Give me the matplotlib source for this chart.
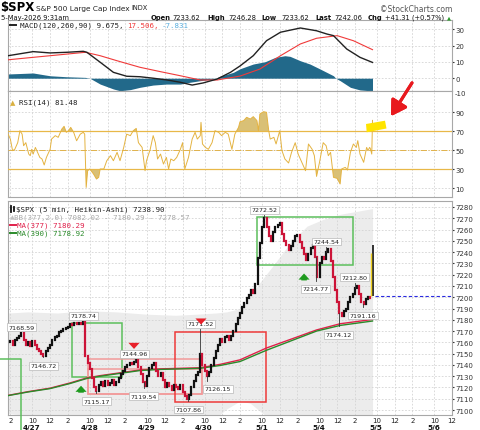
import matplotlib
matplotlib.use("Agg")
import matplotlib.pyplot as plt
from matplotlib.patches import Rectangle, Polygon
from matplotlib.lines import Line2D

W, H = 480, 431

# x is the 5-minute bar number: 0 = 27-Apr 9:30, 78 bars per session
bars_per_day = 78
day_labels = ["4/27", "4/28", "4/29", "4/30", "5/1", "5/4", "5/5", "5/6"]

# Heikin-Ashi closes read every 15 minutes, starting at bar -27
ha_first_bar = -27
ha_every = 3
ha_close = [
    7160, 7161, 7158, 7162, 7164, 7166, 7168, 7162, 7158,
    7160, 7157, 7161, 7158, 7154, 7152, 7150, 7148, 7152, 7155, 7158, 7162, 7165,
    7166, 7169, 7170, 7172, 7173, 7174, 7176, 7175, 7177, 7176, 7177, 7176, 7178,
    7148, 7142, 7136, 7128, 7120, 7117, 7122, 7125, 7121, 7126, 7122, 7124, 7127,
    7122, 7125, 7128, 7132, 7135, 7138, 7140, 7142, 7141, 7143, 7144, 7138, 7132,
    7125, 7121, 7130, 7137, 7140, 7142, 7135, 7130, 7133, 7127, 7120, 7124, 7121,
    7118, 7122, 7120, 7119, 7122, 7116, 7112, 7110, 7113, 7120, 7126, 7131, 7134,
    7150, 7140, 7135, 7130, 7134, 7140, 7146, 7152, 7158, 7163, 7160, 7165, 7166,
    7162, 7166, 7170, 7176, 7182, 7186, 7191, 7195, 7199, 7202, 7206, 7204, 7212,
    7235, 7248, 7262, 7270, 7262, 7254, 7250, 7258, 7262, 7264, 7266, 7256, 7250,
    7246, 7242, 7245, 7250, 7254, 7255, 7249, 7244, 7238, 7233, 7238, 7244, 7246,
    7236, 7218, 7230, 7236, 7234, 7240, 7243, 7232, 7218, 7206, 7196, 7186, 7183,
    7188, 7190, 7196, 7200, 7203, 7208, 7210, 7203, 7196, 7194, 7198, 7200, 7199,
]
last_bar = 468
last_open, last_close, last_high = 7201.0, 7238.90, 7246.28
prev_close = 7200.75

# labelled swing highs / lows
pivot_bar = [-9, 21, 75, 93, 145, 157, 218, 234, 243, 321, 391, 405, 422, 444, 455]
pivot_price = [7168.59, 7146.72, 7178.74, 7115.17, 7144.96, 7119.54, 7107.86, 7171.52,
               7126.15, 7272.52, 7214.77, 7244.54, 7174.12, 7212.80, 7191.16]
pivot_is_high = [True, False, True, False, True, False, False, True,
                 False, True, False, True, False, True, False]

ma_bar = [-27, 0, 30, 57, 80, 98, 125, 152, 180, 207, 234, 261, 288, 324, 356, 392, 424, 468]
ma390 = [7112.8, 7116, 7119, 7123.5, 7128, 7130, 7132.5, 7135, 7136, 7136.5, 7137,
         7139.5, 7143, 7153, 7161, 7170, 7175, 7178.92]
ma377 = [7113, 7116.3, 7119.4, 7124, 7128.5, 7130.5, 7133, 7135.5, 7136.5, 7137, 7137.5,
         7140.5, 7144.5, 7155, 7162.5, 7171, 7176.5, 7180.29]

bb_bar = [-27, 0, 40, 80, 120, 160, 200, 230, 255, 270, 288, 302, 315, 333, 356, 379, 401, 424, 468]
bb_upper = [7186, 7187, 7186, 7188, 7187, 7185, 7184, 7185, 7186, 7187, 7190, 7201, 7213,
            7228, 7248, 7263, 7269, 7273.5, 7278.57]
bb_lower = [7097, 7095, 7091, 7087, 7085, 7085, 7088, 7090, 7093, 7101, 7108, 7106, 7099,
            7090, 7086, 7083, 7081, 7080, 7082.02]

rsi_bar = [
    -27, -24, -21, -18, -14, -11, -8, -6, -3, 1,
    3, 5, 7, 10, 12, 14, 16, 19, 22, 25,
    30, 32, 37, 41, 46, 49, 52, 55, 58, 62,
    66, 71, 75, 77, 79, 81, 84, 89, 93, 96,
    98, 103, 107, 112, 116, 121, 125, 130, 134, 139,
    143, 147, 150, 155, 159, 161, 166, 170, 173, 176,
    180, 184, 188, 191, 194, 198, 202, 207, 210, 213,
    218, 223, 227, 230, 234, 235, 237, 241, 245, 250,
    254, 259, 263, 268, 272, 277, 281, 286, 288, 293,
    297, 302, 306, 311, 313, 315, 320, 324, 327, 329,
    334, 337, 342, 345, 349, 354, 358, 363, 367, 372,
    377, 381, 386, 389, 392, 396, 401, 405, 408, 411,
    415, 420, 424, 426, 431, 434, 438, 442, 446, 448,
    451, 456, 460, 462, 464, 465, 467, 468]
rsi_value = [
    67, 61.8, 49.6, 51, 58, 70.6, 67, 54.8, 58, 46,
    44.3, 51, 46, 53, 49.6, 46, 42.5, 40.8, 34.5, 42.5,
    51, 61.8, 65.4, 63.6, 72.4, 75.2, 68.9, 70.6, 74.1, 68.9,
    60, 67, 68.9, 67, 10.9, 28.5, 30.3, 25, 19.7, 21.5,
    30.3, 30.3, 39, 44.3, 39, 47.8, 39, 53, 67, 65.4,
    70.6, 73, 58, 53, 28.5, 39, 51, 65.4, 58, 40.8,
    46, 35.5, 42.5, 30.3, 40.8, 39, 42.5, 51, 58, 30.3,
    42.5, 61.8, 68.9, 61.8, 65.4, 79.4, 56.6, 53, 51, 58,
    70.6, 68.9, 65.4, 68.9, 67, 51, 67, 74.1, 80, 81.2,
    84.7, 82.9, 85.4, 81.2, 70.6, 88.2, 90.6, 90, 70.6, 61.8,
    63.6, 56.6, 70.6, 49.6, 40.8, 36.6, 47.8, 58, 46, 37.3,
    28.5, 56.6, 51, 44.3, 22.5, 37.3, 58, 54.8, 44.3, 47.8,
    21.5, 20.4, 14.5, 30.3, 32, 29.2, 47.8, 56.6, 53, 60.1,
    46, 37.3, 53, 49.6, 53, 52, 46, 81.48]

macd_bar = [-27, 7, 30, 53, 75, 80, 98, 116, 134, 152, 170, 189, 207, 223, 238, 257,
            275, 288, 306, 324, 343, 370, 392, 406, 415, 433, 451, 468]
macd_value = [13.8, 16.3, 15.5, 15.9, 16.5, 15.9, 9.8, 3.6, 1.2, 0.9, 0, -1.1, -2.5, -4.2,
              -2.9, -0.5, 3.6, 7.5, 13.8, 23, 28.2, 30.8, 29.1, 27.1, 26.1, 17.9, 12.8, 9.675]
signal_bar = [-27, 7, 30, 53, 78, 98, 121, 152, 180, 207, 234, 257, 288, 315, 343, 370,
              392, 420, 442, 468]
signal_value = [11.3, 12.8, 13.8, 14.8, 15.9, 13.8, 10.7, 6.7, 4, 1.5, -1.1, -1.1, 1.3,
                5.6, 13.8, 21, 24.5, 26.1, 23, 17.506]
hist_bar = [-27, -4, 7, 23, 30, 52, 78, 84, 98, 116, 125, 139, 152, 170, 188, 207, 220,
            234, 252, 261, 279, 288, 306, 322, 336, 349, 356, 370, 383, 397, 415, 418,
            424, 438, 451, 468]
hist_value = [2.6, 3, 3.2, 2, 1.5, 0.9, 0.5, 0, -3.6, -6.6, -7.7, -7, -5.6, -4.2, -3.6,
              -3.6, -2.5, -1.5, -0.5, 1.2, 3.6, 5.8, 8.7, 10.1, 12.8, 13.8, 13.4, 10.7,
              8.7, 5.6, 1.5, 0, -1.5, -5.6, -7.2, -7.831]

# hand-drawn boxes on the price panel: bar from, bar to, price low, price high, colour
boxes = [
    (60, 127, 7129, 7177, "#5cbf5c"),
    (82, 236, 7114, 7145, "#f29a9a"),
    (82, 236, 7114, 7136.5, "#f29a9a"),
    (200, 323, 7107, 7169, "#ee3a3a"),
    (311, 442, 7228.6, 7271, "#5cbf5c"),
]
up_arrows = [(72, 7124), (375, 7223.5)]
down_arrows = [(144, 7151.7), (235, 7173.3)]


def fx(x):
    return x / W


def fy(y):
    return 1 - y / H


fig = plt.figure(figsize=(W / 100, H / 100), dpi=100)
fig.patch.set_facecolor("white")
ax_m = fig.add_axes([fx(8), fy(92), 444 / W, 71 / H])
ax_r = fig.add_axes([fx(8), fy(198), 444 / W, 106 / H])
ax_p = fig.add_axes([fx(8), fy(416), 444 / W, 214 / H])

xticks, xlabels = [], []
for d in range(-1, 8):
    for off, lab in ((6, "10"), (30, "12"), (54, "2")):
        xticks.append(d * bars_per_day + off)
        xlabels.append(lab)

grid_kw = dict(color="#d4d4d4", lw=0.6, ls=(0, (2, 2)))
for ax in (ax_m, ax_r, ax_p):
    for s in ax.spines.values():
        s.set_color("#a8a8a8")
        s.set_linewidth(0.8)
    ax.yaxis.tick_right()
    ax.tick_params(axis="y", labelsize=5, length=1.5, pad=0.8, colors="#333333")
    ax.set_xticks(xticks)
    ax.set_xlim(-27.2, 576)
    ax.grid(True, **grid_kw)

for ax in (ax_m, ax_r):
    ax.tick_params(axis="x", length=0, labelbottom=False)

# ---- MACD ----
ax_m.fill_between(hist_bar, 0, hist_value, color="#22698a", lw=0, zorder=2)
ax_m.plot(signal_bar, signal_value, color="#f03a3a", lw=0.8, zorder=3)
ax_m.plot(macd_bar, macd_value, color="#222222", lw=1.0, zorder=4)
ax_m.set_yticks([0, 10, 20, 30])
ax_m.set_ylim(-7.85, 35.7)
fig.text(fx(455), fy(94.5), "-10", fontsize=5, color="#333333", va="center")

# ---- RSI ----
ax_r.fill_between(rsi_bar, 70, rsi_value, where=[v > 70 for v in rsi_value],
                  interpolate=True, color="#d9c076", lw=0, zorder=2)
ax_r.fill_between(rsi_bar, 30, rsi_value, where=[v < 30 for v in rsi_value],
                  interpolate=True, color="#d9c076", lw=0, zorder=2)
for lvl in (70, 30):
    ax_r.axhline(lvl, color="#e8b848", lw=0.9, zorder=3)
ax_r.axhline(50, color="#e0b24c", lw=0.7, ls="-.", zorder=3)
ax_r.plot(rsi_bar, rsi_value, color="#e4b341", lw=0.7, zorder=4)
ax_r.set_yticks([10, 30, 50, 70, 90])
ax_r.set_ylim(0.8, 112.4)

# ---- price ----
ax_p.set_xticklabels(xlabels)
ax_p.tick_params(axis="x", labelsize=5, length=0, pad=1.2, colors="#222222")
ax_p.fill_between(bb_bar, bb_lower, bb_upper, color="#ececec", lw=0, zorder=0.2)

for b0, b1, p0, p1, col in boxes:
    ax_p.add_patch(Rectangle((b0, p0), b1 - b0, p1 - p0, fill=False, ec=col, lw=1.1, zorder=3))
# box that starts left of the panel
ax_p.plot([-40, -9.9, -9.9], [7145.2, 7145.2, 7081], color="#5cbf5c", lw=1.1,
          clip_on=False, zorder=3)

ax_p.plot(ma_bar, ma377, color="#e0204a", lw=1.0, zorder=4)
ax_p.plot(ma_bar, ma390, color="#2a8a2a", lw=1.0, zorder=4)

ha_bar = [ha_first_bar + ha_every * i for i in range(len(ha_close))]
ha_open = [ha_close[0]] + ha_close[:-1]
for want_up, col in ((True, "#111111"), (False, "#cc1438")):
    xs = [b for b, o, c in zip(ha_bar, ha_open, ha_close) if (c >= o) == want_up]
    lo = [min(o, c) for o, c in zip(ha_open, ha_close) if (c >= o) == want_up]
    hi = [max(o, c) for o, c in zip(ha_open, ha_close) if (c >= o) == want_up]
    lc = ax_p.vlines(xs, lo, hi, colors=col, lw=1.6, zorder=5)
    lc.set_capstyle("projecting")

for b, p in zip(pivot_bar, pivot_price):
    near = min(range(len(ha_bar)), key=lambda i: abs(ha_bar[i] - b))
    ax_p.plot([b, b], [ha_close[near], p], color="#333333", lw=0.6, zorder=5)

ax_p.vlines([last_bar], [last_open], [last_high], colors="#111111", lw=1.2, zorder=6)
ax_p.vlines([last_bar - 1.6], [last_open], [last_close], colors="#f0d020", lw=1.0, zorder=6)
ax_p.hlines(prev_close, last_bar + 3, 576, colors="#2a2ae0", lw=0.8, ls=(0, (3, 2)), zorder=4)

box_kw = dict(boxstyle="square,pad=0.22", fc="white", ec="#b8b8b8", lw=0.5)
for b, p, is_high in zip(pivot_bar, pivot_price, pivot_is_high):
    dx = 8 if p == 7126.15 else 0
    ax_p.annotate(f"{p:.2f}", (b, p), xytext=(dx, 2.2 if is_high else -4.2),
                  textcoords="offset points", ha="center",
                  va="bottom" if is_high else "top", fontsize=4.6, color="#222222",
                  bbox=box_kw, zorder=7)

arrow_kw = dict(arrowstyle="simple,head_length=0.55,head_width=1.0,tail_width=0.5",
                mutation_scale=8, lw=0)
for b, p in up_arrows:
    ax_p.annotate("", (b, p), xytext=(0, -9), textcoords="offset points",
                  arrowprops=dict(color="#1e9a1e", **arrow_kw), zorder=8)
for b, p in down_arrows:
    ax_p.annotate("", (b, p), xytext=(0, 8), textcoords="offset points",
                  arrowprops=dict(color="#e8202a", **arrow_kw), zorder=8)

ax_p.set_yticks(range(7100, 7281, 10))
ax_p.set_ylim(7095.6, 7285.3)
ax_p.set_xlim(-27.2, 576)

for d, lab in enumerate(day_labels):
    ax_p.text(d * bars_per_day + 5, -0.056, lab, transform=ax_p.get_xaxis_transform(),
              ha="center", va="center", fontsize=5.2, fontweight="bold", color="#111111")

# ---- header and legends ----
fig.text(fx(0.5), fy(7.5), "$SPX", fontsize=8.5, fontweight="bold", va="center")
fig.text(fx(36), fy(8.5), "S&P 500 Large Cap Index", fontsize=5.3, va="center", color="#222222")
fig.text(fx(131), fy(8.5), "INDX", fontsize=4.8, va="center", color="#222222")
fig.text(fx(452), fy(9.5), "\u00a9StockCharts.com", fontsize=5.5, va="center", ha="right",
         color="#555555")

line2 = [
    (1, "5-May-2026 9:31am", "normal"),
    (151, "Open", "bold"), (172.3, "7233.62", "normal"),
    (207.7, "High", "bold"), (228.7, "7246.28", "normal"),
    (261.7, "Low", "bold"), (281.7, "7233.62", "normal"),
    (315, "Last", "bold"), (334, "7242.06", "normal"),
    (367.7, "Chg", "bold"), (385, "+41.31 (+0.57%)", "normal"),
]
for x, s, wgt in line2:
    fig.text(fx(x), fy(17.7), s, fontsize=4.9, fontweight=wgt, va="center", color="#111111")
fig.text(fx(447), fy(17.7), "\u25b2", fontsize=3.8, va="center", color="#2a9a2a")

mono = dict(family="DejaVu Sans Mono", fontsize=5.4, va="center")
fig.add_artist(Line2D([fx(10), fx(16)], [fy(26), fy(26)], color="#222222", lw=1.4))
fig.text(fx(19.5), fy(26), "MACD(120,260,90) 9.675,", color="#222222", **mono)
fig.text(fx(127), fy(26), "17.506,", color="#f03a3a", **mono)
fig.text(fx(162), fy(26), "-7.831", color="#5aaede", **mono)

fig.text(fx(10), fy(103), "\u25b2", fontsize=5, color="#d9b040", va="center")
fig.text(fx(19.3), fy(103), "RSI(14) 81.48", color="#222222", **mono)

fig.add_artist(Line2D([fx(11), fx(11)], [fy(207), fy(213)], color="#111111", lw=1.3))
fig.add_artist(Line2D([fx(13.5), fx(13.5)], [fy(208), fy(212)], color="#111111", lw=1.3))
fig.text(fx(16.3), fy(210), "$SPX (5 min, Heikin-Ashi) 7238.90", color="#222222", **mono)
fig.text(fx(10), fy(217.5), "\u25b2", fontsize=4.5, color="#c0c0c0", va="center")
fig.text(fx(14.5), fy(217.5), "BB(377,2.0) 7082.02 - 7180.29 - 7278.57", color="#aaaaaa", **mono)
fig.add_artist(Line2D([fx(10), fx(16)], [fy(226), fy(226)], color="#e0204a", lw=1.4))
fig.text(fx(17), fy(226), "MA(377) 7180.29", color="#e0204a", **mono)
fig.add_artist(Line2D([fx(10), fx(16)], [fy(234), fy(234)], color="#2a8a2a", lw=1.4))
fig.text(fx(17), fy(234), "MA(390) 7178.92", color="#2a8a2a", **mono)

# yellow highlight and red pointer on the RSI
hl = [(366, 125), (385, 121.7), (386.5, 129.5), (366.7, 133.3)]
fig.add_artist(Polygon([(fx(x), fy(y)) for x, y in hl], closed=True, fc="#ffe400",
                       ec="none", transform=fig.transFigure, zorder=10))
fig.add_artist(plt.annotate("", xy=(fx(389.5), fy(119.5)), xytext=(fx(413.5), fy(81.5)),
                            xycoords="figure fraction", textcoords="figure fraction",
                            arrowprops=dict(arrowstyle="-|>,head_length=1.0,head_width=0.6",
                                            mutation_scale=9, color="#e8191e", lw=2.2)))

fig.savefig("out.png", dpi=100, facecolor="white")
